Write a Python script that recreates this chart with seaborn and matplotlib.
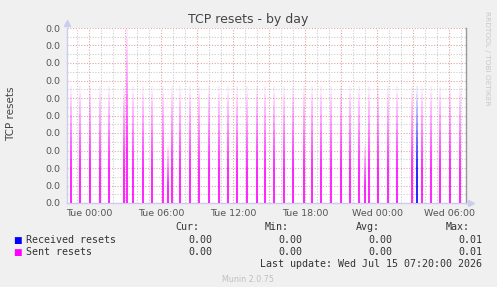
import numpy as np
import pandas as pd
import matplotlib
matplotlib.use("Agg")
import matplotlib.pyplot as plt
import matplotlib.dates as mdates
from matplotlib.ticker import FuncFormatter
import seaborn as sns

# data, hours after Tue 00:00
start = pd.Timestamp("2026-07-14 00:00")
sent_hours = [-1.5, -0.75, 0.08, 0.85, 1.67, 2.92, 3.17, 3.68, 4.5, 5.25,
              6.1, 6.58, 6.85, 7.58, 8.39, 9.17, 10.0, 10.77, 11.52, 12.33,
              13.1, 13.95, 14.67, 15.42, 16.25, 17.0, 17.85, 18.58, 19.33, 20.17,
              20.96, 21.75, 22.5, 22.95, 23.27, 24.08, 24.85, 25.67, 26.93, 27.75,
              28.5, 29.25, 30.06, 30.85]
sent_values = [0.00667] * len(sent_hours)
sent_values[6] = 0.01
sent_values[11] = 0.00333
sent_values[33] = 0.00333
recv_hours = [27.33]
recv_values = [0.00667]

series_names = ["Received resets", "Sent resets"]
series_colors = ["#0000ff", "#ff00ff"]
cur_vals = ["0.00", "0.00"]
min_vals = ["0.00", "0.00"]
avg_vals = ["0.00", "0.00"]
max_vals = ["0.01", "0.01"]
y_ticks = np.arange(0, 0.01001, 0.001)

sns.set_style("white")
plt.rcParams['font.family'] = ['DejaVu Sans']

W, H = 497, 287
fig = plt.figure(figsize=(W / 100, H / 100), dpi=100, facecolor="#f0f0f0")
ax = fig.add_axes([67 / W, 84 / H, 399 / W, 175 / H])
ax.set_facecolor("white")


def px(x, y):
    return x / W, 1 - y / H


def draw_spikes(hours, values, color, zorder):
    t = start + pd.to_timedelta(hours, unit="h")
    n = 16
    for k in range(n):
        lo = np.array(values) * k / n
        hi = np.array(values) * (k + 1) / n
        alpha = min(1.0, max(0.05, 1.35 * (1 - k / n)))
        ax.vlines(t, lo, hi, colors=color, alpha=alpha, lw=1.2, zorder=zorder)


draw_spikes(sent_hours, sent_values, series_colors[1], 3)
draw_spikes(recv_hours, recv_values, series_colors[0], 4)

ax.set_xlim(start - pd.Timedelta(hours=1.86), start + pd.Timedelta(hours=31.39))
ax.set_ylim(0, 0.01)

# grid
ax.set_yticks(y_ticks)
ax.set_yticks(np.arange(0.0005, 0.01, 0.001), minor=True)
ax.yaxis.set_major_formatter(FuncFormatter(lambda v, p: "0.0"))
ax.xaxis.set_major_locator(mdates.HourLocator(byhour=range(0, 24, 3)))
ax.xaxis.set_minor_locator(mdates.HourLocator())
ax.xaxis.set_major_formatter(FuncFormatter(
    lambda v, p: mdates.num2date(v).strftime("%a %H:%M") if mdates.num2date(v).hour % 6 == 0 else ""))
dots = (0, (1, 1.5))
ax.grid(which="major", color="#e2a4a4", ls=dots, lw=0.8, zorder=1)
ax.grid(which="minor", color="#cccccc", ls=dots, lw=0.8, zorder=1)
ax.set_axisbelow(True)

ax.tick_params(axis="both", which="major", length=2, width=0.8, color="#e2a4a4",
               labelsize=6.8, labelcolor="#555555", pad=2)
ax.tick_params(axis="both", which="minor", length=0)
ax.tick_params(axis="y", length=0, pad=5)

ax.spines["top"].set_visible(False)
ax.spines["left"].set_color("#ccccee")
ax.spines["bottom"].set_color("#ccccee")
ax.spines["right"].set_color("#999999")
for s in ["left", "bottom", "right"]:
    ax.spines[s].set_linewidth(1)

# axis arrows
ax.plot([0], [1.03], marker="^", ms=4, color="#ccccee", transform=ax.transAxes, clip_on=False)
ax.plot([1.012], [0], marker=">", ms=4, color="#ccccee", transform=ax.transAxes, clip_on=False)

# texts
fig.text(*px(248, 19), "TCP resets - by day", ha="center", va="center", fontsize=9, color="#444444")
fig.text(*px(11, 114), "TCP resets", rotation=90, ha="center", va="center", fontsize=7.5, color="#444444")
fig.text(*px(487, 58), "RRDTOOL / TOBI OETIKER", rotation=270, ha="center", va="center",
         fontsize=5.3, color="#c8c8c8")

mono = dict(family="DejaVu Sans Mono", fontsize=7.2, color="#333333", va="center")
fig.text(*px(199, 227), "Cur:", ha="right", **mono)
fig.text(*px(289, 227), "Min:", ha="right", **mono)
fig.text(*px(380, 227), "Avg:", ha="right", **mono)
fig.text(*px(470, 227), "Max:", ha="right", **mono)
for i, name in enumerate(series_names):
    y = 240 + 12 * i
    fig.text(*px(13, y), "\u25a0", ha="left", fontsize=6.5, color=series_colors[i], va="center")
    fig.text(*px(26, y), name, ha="left", **mono)
    fig.text(*px(212, y), cur_vals[i], ha="right", **mono)
    fig.text(*px(302, y), min_vals[i], ha="right", **mono)
    fig.text(*px(392, y), avg_vals[i], ha="right", **mono)
    fig.text(*px(482, y), max_vals[i], ha="right", **mono)
fig.text(*px(482, 264), "Last update: Wed Jul 15 07:20:00 2026", ha="right", **mono)
fig.text(*px(248, 279), "Munin 2.0.75", ha="center", va="center", fontsize=5.8, color="#c0c0c0")

fig.savefig("out.png", dpi=100, facecolor=fig.get_facecolor())
